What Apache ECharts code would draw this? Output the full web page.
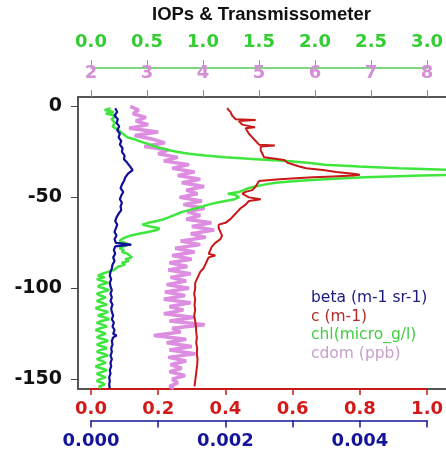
<!DOCTYPE html>
<html>
<head>
<meta charset="utf-8">
<style>
  html, body { margin: 0; padding: 0; background: #fff; }
  #chart { width: 446px; height: 456px; }
</style>
<script src="https://cdn.jsdelivr.net/npm/echarts@6/dist/echarts.min.js"></script>
</head>
<body>
<div id="chart"></div>
<script>
// depth in metres (negative = below surface)
const betaDepth = [-1, -3, -5, -7, -9, -11, -13, -15, -17, -19, -21, -23, -25, -27, -29, -31, -33, -35, -37, -39,
  -41, -43, -45, -47, -49, -51, -53, -55, -57, -59, -61, -63, -65, -67, -69, -71, -73, -75, -76, -77,
  -79, -81, -83, -85, -87, -89, -91, -93, -95, -97, -99, -101, -103, -105, -107, -109, -111, -113, -115, -117,
  -119, -121, -123, -125, -126, -127, -129, -131, -133, -135, -137, -139, -141, -143, -145, -147, -149, -151, -153, -155]
const betaValue = [0.00036, 0.00039, 0.00035, 0.00040, 0.00038, 0.00042, 0.00039, 0.00043, 0.00041, 0.00045,
  0.00043, 0.00047, 0.00046, 0.00050, 0.00049, 0.00054, 0.00058, 0.00062, 0.00055, 0.00051,
  0.00049, 0.00046, 0.00044, 0.00048, 0.00045, 0.00043, 0.00046, 0.00044, 0.00045, 0.00041,
  0.00038, 0.00036, 0.00039, 0.00037, 0.00035, 0.00038, 0.00035, 0.00037, 0.00060, 0.00036,
  0.00034, 0.00036, 0.00033, 0.00035, 0.00032, 0.00031, 0.00029, 0.00028, 0.00030, 0.00028,
  0.00029, 0.00031, 0.00029, 0.00031, 0.00029, 0.00032, 0.00030, 0.00031, 0.00033, 0.00031,
  0.00034, 0.00032, 0.00035, 0.00033, 0.00038, 0.00033, 0.00031, 0.00032, 0.00030, 0.00031,
  0.00029, 0.00031, 0.00029, 0.00030, 0.00028, 0.00029, 0.00027, 0.00028, 0.00027, 0.00028]

const cDepth = [-1, -2, -3, -5, -6, -7, -7.5, -8, -9, -10, -11, -11.5, -12, -13, -15, -17, -19, -21, -21.5, -22,
  -24, -26, -28, -29, -29.5, -30, -31, -32, -33, -34, -35, -36, -37, -37.5, -38, -38.5, -39, -40, -41, -42,
  -44, -46, -47, -48, -49, -50, -51, -52, -54, -56, -58, -60, -62, -64, -65, -67, -69, -71, -73, -75,
  -77, -79, -81, -82, -83, -85, -87, -89, -91, -93, -95, -97, -100, -103, -106, -109, -112, -115, -118, -121,
  -124, -127, -130, -133, -136, -139, -142, -145, -148, -151, -154]
const cValue = [0.405, 0.410, 0.415, 0.420, 0.425, 0.430, 0.490, 0.440, 0.445, 0.450, 0.455, 0.488, 0.460, 0.465, 0.470, 0.480, 0.490, 0.500, 0.547, 0.505,
  0.505, 0.510, 0.515, 0.520, 0.575, 0.580, 0.585, 0.590, 0.620, 0.640, 0.690, 0.730, 0.780, 0.800, 0.780, 0.720, 0.660, 0.560, 0.500, 0.495,
  0.490, 0.480, 0.460, 0.450, 0.455, 0.470, 0.505, 0.470, 0.460, 0.445, 0.435, 0.425, 0.415, 0.400, 0.380, 0.380, 0.385, 0.390, 0.385, 0.370,
  0.360, 0.355, 0.350, 0.370, 0.350, 0.345, 0.340, 0.335, 0.325, 0.320, 0.315, 0.310, 0.310, 0.307, 0.310, 0.308, 0.310, 0.307, 0.310, 0.312,
  0.313, 0.315, 0.313, 0.316, 0.315, 0.317, 0.316, 0.314, 0.312, 0.310, 0.308]

const chlDepth = [-1, -2, -3, -4, -5, -7, -9, -11, -13, -15, -17, -18, -19, -20, -21, -22, -23, -24, -25, -26,
  -27, -28, -29, -30, -31, -32, -33, -34, -35, -36, -37, -38, -39, -40, -41, -42, -43, -44, -45, -46,
  -47, -48, -48.5, -49, -50, -51, -52, -53, -54, -55, -56, -57, -58, -59, -60, -61, -62, -63, -64, -65,
  -66, -67, -68, -69, -70, -71, -72, -73, -74, -75, -76, -77, -78, -79, -80, -81, -82, -83, -84, -85,
  -86, -87, -88, -89, -90, -91, -92, -93, -94, -95, -96, -97, -98, -99, -100, -101, -102, -103, -104, -105,
  -106, -107, -108, -109, -110, -111, -112, -113, -114, -115, -116, -117, -118, -119, -120, -121, -122, -123, -124, -125,
  -126, -127, -128, -129, -130, -131, -132, -133, -134, -135, -136, -137, -138, -139, -140, -141, -142, -143, -144, -145,
  -146, -147, -148, -149, -150, -151, -152, -153, -154, -155]
const chlValue = [0.17, 0.12, 0.20, 0.13, 0.22, 0.18, 0.21, 0.19, 0.24, 0.28, 0.32, 0.38, 0.42, 0.47, 0.52, 0.56, 0.62, 0.68, 0.76, 0.86,
  1.00, 1.18, 1.45, 1.72, 1.90, 2.05, 2.35, 2.70, 3.20, 3.60, 3.50, 2.90, 2.40, 2.05, 1.80, 1.62, 1.52, 1.44, 1.38, 1.34,
  1.30, 1.20, 1.26, 1.27, 1.30, 1.26, 1.18, 1.10, 1.03, 0.98, 0.92, 0.86, 0.80, 0.76, 0.72, 0.68, 0.64, 0.58, 0.50, 0.45,
  0.52, 0.60, 0.58, 0.50, 0.42, 0.35, 0.30, 0.27, 0.25, 0.30, 0.33, 0.28, 0.25, 0.29, 0.27, 0.32, 0.31, 0.36, 0.30, 0.33,
  0.27, 0.30, 0.24, 0.22, 0.20, 0.15, 0.10, 0.06, 0.12, 0.05, 0.10, 0.15, 0.09, 0.06, 0.11, 0.16, 0.10, 0.05, 0.08, 0.13,
  0.09, 0.05, 0.10, 0.14, 0.08, 0.04, 0.09, 0.15, 0.11, 0.06, 0.12, 0.16, 0.09, 0.05, 0.10, 0.14, 0.08, 0.04, 0.09, 0.13,
  0.08, 0.05, 0.11, 0.15, 0.09, 0.05, 0.10, 0.14, 0.08, 0.05, 0.11, 0.15, 0.09, 0.05, 0.10, 0.13, 0.08, 0.04, 0.09, 0.14,
  0.10, 0.05, 0.09, 0.13, 0.08, 0.05, 0.10, 0.12, 0.07, 0.09]

const cdomDepth = [0, -2, -4, -6, -8, -10, -12, -14, -16, -18, -20, -22, -24, -26, -28, -30, -32, -34, -36, -38,
  -40, -42, -44, -46, -48, -50, -52, -54, -56, -58, -60, -62, -64, -66, -68, -70, -72, -74, -76, -78,
  -80, -82, -84, -86, -88, -90, -92, -94, -96, -98, -100, -102, -104, -106, -108, -110, -112, -114, -116, -118,
  -120, -122, -124, -126, -128, -130, -132, -134, -136, -138, -140, -142, -144, -146, -148, -150, -152, -154, -155]
const cdomValue = [2.70, 2.85, 2.75, 2.98, 2.80, 3.02, 2.68, 3.20, 2.78, 3.10, 3.32, 2.95, 3.38, 3.20, 3.55, 3.30, 3.75, 3.45, 3.85, 3.55,
  3.95, 3.62, 4.02, 3.70, 3.90, 3.58, 3.98, 3.65, 4.03, 3.72, 3.95, 3.70, 4.15, 3.80, 4.20, 3.78, 4.05, 3.60, 3.95, 3.50,
  3.85, 3.45, 3.80, 3.40, 3.72, 3.38, 3.78, 3.42, 3.70, 3.35, 3.75, 3.32, 3.68, 3.30, 3.78, 3.40, 3.65, 3.30, 3.85, 3.40,
  4.03, 3.45, 3.60, 3.12, 3.70, 3.35, 3.80, 3.40, 3.86, 3.38, 3.70, 3.42, 3.62, 3.40, 3.68, 3.45, 3.55, 3.40, 3.48]

const depthTicks = [0, -50, -100, -150]
const betaLabels = [0, 0.002, 0.004]

const chart = echarts.init(document.getElementById('chart'))

const pairs = (xs, ys) => xs.map((v, i) => [v, ys[i]])
const labelFont = { fontFamily: 'DejaVu Sans', fontWeight: 'bold', fontSize: 18 }
const depthMin = -155.4
const depthMax = 5.2
// main grid spans x 91..433 for the 0..3 chl scale; the wide grid reaches the right edge (446)
const chlWideMax = 3 * (446 - 91) / (433 - 91)

const option = {
  animation: false,
  title: {
    text: 'IOPs & Transmissometer',
    left: 152,
    top: 5,
    padding: 0,
    textStyle: { fontFamily: 'Liberation Sans', fontWeight: 'bold', fontSize: 18.5, color: '#111' }
  },
  legend: {
    orient: 'vertical',
    left: 301,
    top: 285,
    icon: 'none',
    itemWidth: 0,
    itemHeight: 10,
    itemGap: 2.5,
    textStyle: { fontFamily: 'DejaVu Sans', fontSize: 15.5 },
    data: [
      { name: 'beta (m-1 sr-1)', textStyle: { color: '#1a1a80' } },
      { name: 'c (m-1)', textStyle: { color: '#b02a2a' } },
      { name: 'chl(micro_g/l)', textStyle: { color: '#44cc44' } },
      { name: 'cdom (ppb)', textStyle: { color: '#c8a0cc' } }
    ]
  },
  grid: [
    { left: 91, right: 13, top: 97, bottom: 67 },
    // same chl scale but reaching the right edge, so the peak runs off the picture
    { left: 91, right: 0, top: 97, bottom: 67 }
  ],
  graphic: [{
    type: 'rect',
    z: -10,
    silent: true,
    shape: { x: 78, y: 97, width: 420, height: 292 },
    style: { fill: 'none', stroke: '#555', lineWidth: 2 }
  }],
  xAxis: [
    { // c
      type: 'value', position: 'bottom', min: 0, max: 1, interval: 0.2,
      axisLine: { onZero: false, lineStyle: { color: '#c81818', width: 2 } },
      axisTick: { length: 6, lineStyle: { color: '#c81818', width: 1.5 } },
      axisLabel: { ...labelFont, color: '#d21a1a', margin: 11, formatter: v => v.toFixed(1) },
      splitLine: { show: false }
    },
    { // beta
      type: 'value', position: 'bottom', offset: 31.5, min: 0, max: 0.005, interval: 0.001,
      axisLine: { onZero: false, lineStyle: { color: '#14149a', width: 1.5 } },
      axisTick: { length: 7, lineStyle: { color: '#14149a', width: 1.5 } },
      axisLabel: { ...labelFont, color: '#14149a', margin: 12, customValues: betaLabels, formatter: v => v.toFixed(3) },
      splitLine: { show: false }
    },
    { // chl
      type: 'value', position: 'top', offset: 29, min: 0, max: 3, interval: 0.5,
      axisLine: { onZero: false, lineStyle: { color: '#55cc55', width: 1.5 } },
      axisTick: { length: 8, lineStyle: { color: '#999' } },
      axisLabel: { ...labelFont, color: '#33cc33', margin: 17, formatter: v => v.toFixed(1) },
      splitLine: { show: false }
    },
    { // cdom
      type: 'value', position: 'top', offset: 0, min: 2, max: 8, interval: 1,
      axisLine: { show: false, onZero: false },
      axisTick: { length: 7, lineStyle: { color: '#888' } },
      axisLabel: { ...labelFont, color: '#d48fd8', margin: 15 },
      splitLine: { show: false }
    },
    { // hidden chl axis on the wide grid
      type: 'value', gridIndex: 1, show: false, min: 0, max: chlWideMax
    }
  ],
  yAxis: [
    {
      type: 'value', min: depthMin, max: depthMax, offset: 13,
      axisLine: { show: true, onZero: false, lineStyle: { color: '#555', width: 2 } },
      axisTick: { show: true, length: 7, customValues: depthTicks, lineStyle: { color: '#444' } },
      axisLabel: { fontFamily: 'DejaVu Sans', fontWeight: 'bold', fontSize: 19, color: '#111', margin: 16, padding: [4, 0, 0, 0], customValues: depthTicks },
      splitLine: { show: false }
    },
    { type: 'value', gridIndex: 1, show: false, min: depthMin, max: depthMax }
  ],
  series: [
    {
      name: 'cdom (ppb)', type: 'line', xAxisIndex: 3,
      data: pairs(cdomValue, cdomDepth), showSymbol: false,
      lineStyle: { color: '#dd8ee0', width: 3.5 }, itemStyle: { color: '#dd8ee0' }
    },
    {
      name: 'chl(micro_g/l)', type: 'line', xAxisIndex: 4, yAxisIndex: 1,
      data: pairs(chlValue, chlDepth), showSymbol: false,
      lineStyle: { color: '#3ee63e', width: 2.5 }, itemStyle: { color: '#3ee63e' }
    },
    {
      name: 'c (m-1)', type: 'line', xAxisIndex: 0,
      data: pairs(cValue, cDepth), showSymbol: false,
      lineStyle: { color: '#c81818', width: 2 }, itemStyle: { color: '#c81818' }
    },
    {
      name: 'beta (m-1 sr-1)', type: 'line', xAxisIndex: 1,
      data: pairs(betaValue, betaDepth), showSymbol: false,
      lineStyle: { color: '#10109a', width: 2.2 }, itemStyle: { color: '#10109a' }
    }
  ]
}

chart.setOption(option)
</script>
</body>
</html>
